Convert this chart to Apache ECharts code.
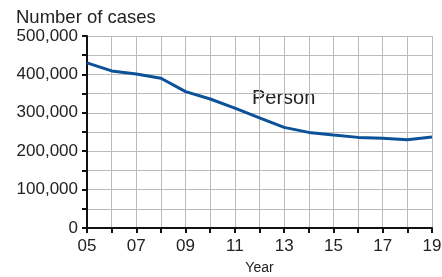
<!DOCTYPE html>
<html><head><meta charset="utf-8">
<script src="https://cdn.jsdelivr.net/npm/echarts@6/dist/echarts.min.js"></script>
<style>html,body{margin:0;padding:0;background:#fff}#c{width:442px;height:277px}</style>
</head><body><div id="c"></div>
<script>
var years = ['05','06','07','08','09','10','11','12','13','14','15','16','17','18','19'];
var cases = [430000,409000,401000,390000,355000,336000,312000,287000,262000,249000,242000,236000,234000,230000,237000];
var seriesName = 'Person';
var chart = echarts.init(document.getElementById('c'));
var font = 'Liberation Sans, Arial, sans-serif';
chart.setOption({
  animation:false,
  title:{text:'Number of cases',left:11,top:3,textStyle:{fontFamily:font,fontSize:18.5,fontWeight:'normal',color:'#222'}},
  grid:{left:87,right:10,top:36,bottom:49,outerBoundsMode:'none',containLabel:false},
  xAxis:{type:'category',data:years,boundaryGap:false,name:'Year',nameLocation:'middle',nameGap:33,
    nameTextStyle:{fontFamily:font,fontSize:14,color:'#222'},
    axisLine:{lineStyle:{color:'#111',width:2}},
    axisTick:{show:true,interval:0,length:5,lineStyle:{color:'#111',width:2}},
    axisLabel:{interval:1,margin:10,fontFamily:font,fontSize:17,color:'#222'},
    splitLine:{show:true,interval:0,lineStyle:{color:'#bbb',width:1}}},
  yAxis:{type:'value',min:0,max:500000,interval:50000,
    axisLine:{show:true,lineStyle:{color:'#111',width:2}},
    axisTick:{show:true,length:5,lineStyle:{color:'#111',width:2}},
    axisLabel:{margin:9,fontFamily:font,fontSize:17,color:'#222',
      formatter:function(v){return v%100000===0?echarts.format.addCommas(v):'';}},
    splitLine:{show:true,lineStyle:{color:'#bbb',width:1}}},
  series:[{name:seriesName,type:'line',data:cases,showSymbol:false,
    lineStyle:{color:'#0b5299',width:3}}],
  graphic:[{type:'text',left:252,top:88,style:{text:seriesName,fontFamily:font,fontSize:20,fill:'#222'}}]
});
</script></body></html>
